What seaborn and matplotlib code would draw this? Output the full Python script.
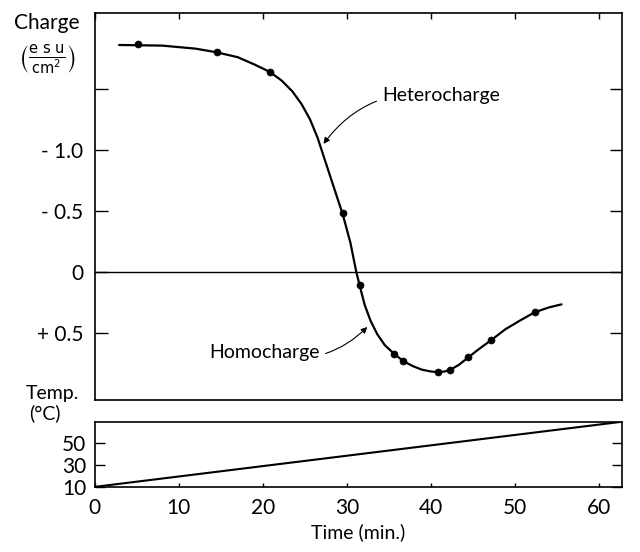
import matplotlib
matplotlib.use("Agg")
import matplotlib.pyplot as plt
import seaborn as sns
import pandas as pd

# ---- data ----
point_time = [5.2, 14.5, 20.8, 29.5, 31.5, 35.6, 36.7, 40.8, 42.3, 44.4, 47.1, 52.3]
point_charge = [-1.87, -1.80, -1.64, -0.48, 0.11, 0.67, 0.73, 0.82, 0.80, 0.70, 0.56, 0.33]

curve_time = [2.9, 8.0, 12.0, 14.5, 17.0, 19.0, 20.8, 22.2, 23.5, 24.6, 25.6, 26.5,
              27.4, 28.4, 29.5, 30.4, 31.1, 31.5, 32.1, 32.8, 33.6, 34.5, 35.6, 36.7,
              37.8, 38.9, 40.0, 40.8, 41.6, 42.3, 43.3, 44.4, 45.7, 47.1, 48.8, 50.5,
              52.3, 54.0, 55.5]
curve_charge = [-1.86, -1.855, -1.83, -1.80, -1.76, -1.70, -1.64, -1.57, -1.48, -1.375,
                -1.25, -1.10, -0.91, -0.70, -0.47, -0.24, 0.0, 0.11, 0.27, 0.40,
                0.51, 0.60, 0.67, 0.73, 0.77, 0.80, 0.815, 0.82, 0.815, 0.80, 0.76,
                0.70, 0.63, 0.56, 0.47, 0.40, 0.33, 0.29, 0.265]

temp_time = [0, 62.7]
temp_value = [10, 70]

charge_ticks = [-1.5, -1.0, -0.5, 0.0, 0.5]
charge_labels = ["", "- 1.0", "- 0.5", "0", "+ 0.5"]
time_ticks = [0, 10, 20, 30, 40, 50, 60]
temp_ticks = [10, 30, 50]

sns.set_style("white")
plt.rcParams["font.family"] = ["Lato", "DejaVu Sans"]
plt.rcParams["mathtext.fontset"] = "dejavusans"
for k in ["text.color", "axes.labelcolor", "xtick.color", "ytick.color"]:
    plt.rcParams[k] = "black"

fig = plt.figure(figsize=(6.4, 5.52), dpi=100)
ax = fig.add_axes([0.148, 0.275, 0.824, 0.701])
ax2 = fig.add_axes([0.148, 0.118, 0.824, 0.118], sharex=ax)

curve_df = pd.DataFrame({"t": curve_time, "c": curve_charge})
pts_df = pd.DataFrame({"t": point_time, "c": point_charge})
temp_df = pd.DataFrame({"t": temp_time, "T": temp_value})

sns.lineplot(data=curve_df, x="t", y="c", ax=ax, color="black", lw=1.6, sort=False)
sns.scatterplot(data=pts_df, x="t", y="c", ax=ax, color="black", s=26, edgecolor="black", zorder=5)
ax.axhline(0, color="black", lw=1.0)

ax.set_xlim(0, 62.7)
ax.set_ylim(1.05, -2.12)
ax.set_yticks(charge_ticks)
ax.set_yticklabels(charge_labels, fontsize=15)
ax.set_xlabel("")
ax.set_ylabel("")
ax.tick_params(axis="y", direction="in", length=9, width=1, left=True, right=True, pad=8)
ax.tick_params(axis="x", direction="in", length=4, width=1, top=True, bottom=False, labelbottom=False)
for s in ax.spines.values():
    s.set_color("black")
    s.set_linewidth(1.2)

ax.annotate("Heterocharge", xy=(27.2, -1.05), xytext=(34.2, -1.45),
            fontsize=14, va="center", ha="left",
            arrowprops=dict(arrowstyle="-|>", color="black", lw=0.8,
                            connectionstyle="arc3,rad=0.3", shrinkA=2, shrinkB=0,
                            mutation_scale=9))
ax.annotate("Homocharge", xy=(32.4, 0.45), xytext=(13.6, 0.66),
            fontsize=14, va="center", ha="left",
            arrowprops=dict(arrowstyle="-|>", color="black", lw=0.8,
                            connectionstyle="arc3,rad=0.3", shrinkA=2, shrinkB=0,
                            mutation_scale=9))

sns.lineplot(data=temp_df, x="t", y="T", ax=ax2, color="black", lw=1.5)
ax2.set_ylim(10, 70)
ax2.set_yticks(temp_ticks)
ax2.set_yticklabels([str(v) for v in temp_ticks], fontsize=15)
ax2.set_xticks(time_ticks)
ax2.set_xticklabels([str(v) for v in time_ticks], fontsize=15)
ax2.tick_params(axis="y", direction="in", length=7, width=1, left=True, right=True, pad=6)
ax2.tick_params(axis="x", direction="in", length=3, width=1, bottom=True, pad=8)
ax2.set_xlabel("Time (min.)", fontsize=14, labelpad=4)
ax2.set_ylabel("")
for s in ax2.spines.values():
    s.set_color("black")
    s.set_linewidth(1.2)

fig.text(0.073, 0.958, "Charge", fontsize=15, ha="center", va="center")
fig.text(0.073, 0.893, r"$\left(\frac{\mathsf{e\ s\ u}}{\mathsf{cm^2}}\right)$", fontsize=15,
         ha="center", va="center")
fig.text(0.082, 0.288, "Temp.", fontsize=14, ha="center", va="center")
fig.text(0.07, 0.252, "(°C)", fontsize=14, ha="center", va="center")

fig.savefig("out.png", dpi=100, facecolor="white")
